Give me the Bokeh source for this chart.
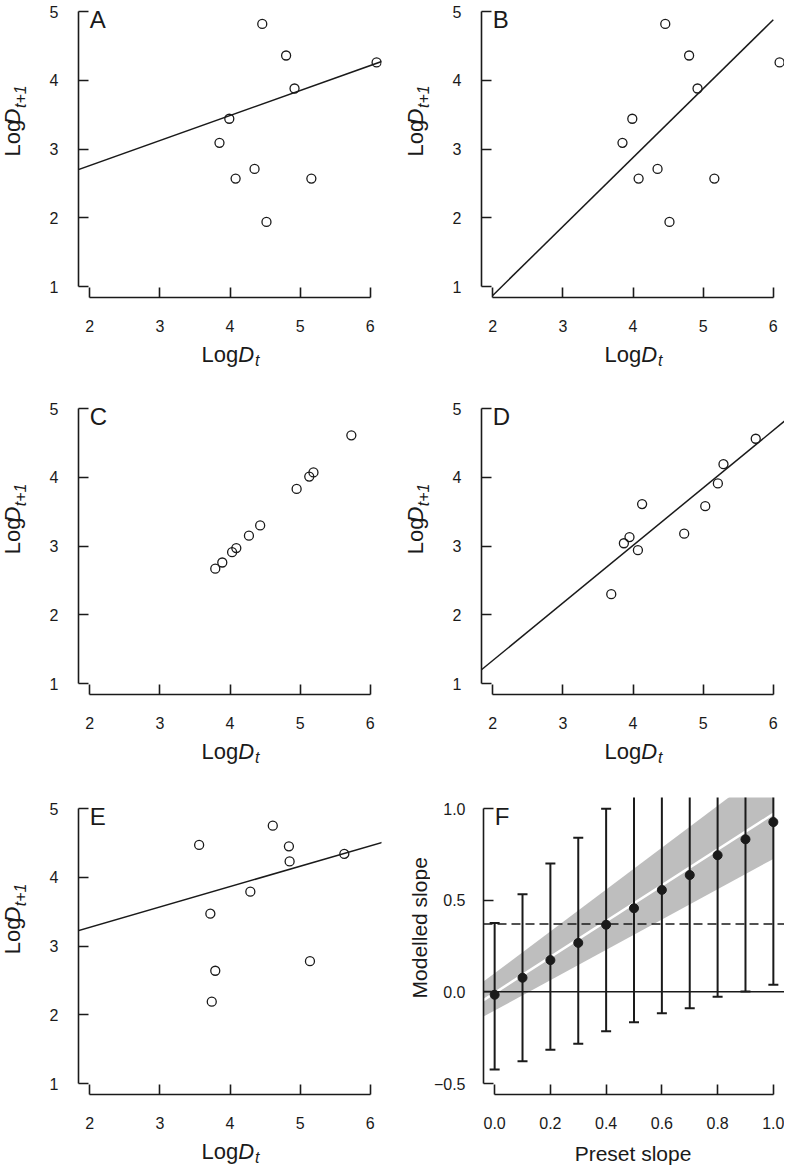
import math
from bokeh.plotting import figure
from bokeh.models import Range1d, FixedTicker, Label, Slope, Span, CustomJSTickFormatter
from bokeh.core.properties import value
from bokeh.layouts import column, row
from bokeh.embed import file_html
from bokeh.resources import INLINE

# ---------------- data ----------------
A_x = [3.85, 3.99, 4.08, 4.35, 4.46, 4.52, 4.80, 4.92, 5.16, 6.09]
A_y = [3.09, 3.44, 2.57, 2.71, 4.82, 1.94, 4.36, 3.88, 2.57, 4.26]
A_intercept, A_slope = 2.03, 0.364

B_x = [3.85, 3.99, 4.08, 4.35, 4.46, 4.52, 4.80, 4.92, 5.16, 6.09]
B_y = [3.09, 3.44, 2.57, 2.71, 4.82, 1.94, 4.36, 3.88, 2.57, 4.26]
B_line_x = [2.0, 6.0]
B_line_y = [0.87, 4.88]

C_x = [3.79, 3.89, 4.03, 4.09, 4.27, 4.43, 4.95, 5.13, 5.19, 5.73]
C_y = [2.67, 2.76, 2.91, 2.97, 3.15, 3.30, 3.83, 4.01, 4.07, 4.61]

D_x = [3.69, 3.87, 3.95, 4.07, 4.13, 4.73, 5.03, 5.21, 5.29, 5.75]
D_y = [2.30, 3.04, 3.13, 2.94, 3.61, 3.18, 3.58, 3.91, 4.19, 4.56]
D_intercept, D_slope = -0.34, 0.837

E_x = [3.56, 3.72, 3.79, 3.74, 4.29, 4.61, 4.84, 4.85, 5.14, 5.63]
E_y = [4.47, 3.47, 2.64, 2.19, 3.79, 4.75, 4.45, 4.23, 2.78, 4.34]
E_intercept, E_slope = 2.68, 0.296

F_preset = [0.0, 0.1, 0.2, 0.3, 0.4, 0.5, 0.6, 0.7, 0.8, 0.9, 1.0]
F_modelled = [-0.016, 0.077, 0.173, 0.267, 0.366, 0.456, 0.556, 0.637, 0.745, 0.832, 0.926]
F_upper = [0.375, 0.532, 0.700, 0.841, 0.998, 1.08, 1.23, 1.36, 1.52, 1.66, 1.81]
F_lower = [-0.424, -0.379, -0.316, -0.283, -0.215, -0.166, -0.117, -0.090, -0.027, 0.002, 0.038]
F_band_x = [-0.04, 1.0]
F_band_lower = [-0.135, 0.725]
F_band_upper = [0.056, 1.243]
F_trend_x = [-0.04, 1.0]
F_trend_y = [-0.045, 0.971]
F_zero_line = 0.0
F_null_slope = 0.37

SC_XTICKS = [2, 3, 4, 5, 6]
SC_YTICKS = [1, 2, 3, 4, 5]
F_XTICKS = [0.0, 0.2, 0.4, 0.6, 0.8, 1.0]
F_YTICKS = [-0.5, 0.0, 0.5, 1.0]

# ---------------- styling / layout constants ----------------
FONT = "Liberation Sans"
INK = "#1a1a1a"
TICK_PX = 16
BASE_FIX = 0.33          # em: lift of Bokeh's "alphabetic" anchor onto the true baseline
FW, FH = 303, 297
SC_X = (1.84, 6.16)
SC_Y = (0.84, 5.16)
F_X = (-0.04, 1.04)
F_Y = (-0.56, 1.06)
TOTAL_W = 784
COL_X0 = [0, 400]            # page x where each column starts
COL_W = [400, 384]           # column widths
FRAME_LEFT = [78, 481]       # page x of each plot frame's left edge
COL_RIGHT = [19, 0]          # border right of each frame
# width of the y-title strip, per row and column
STRIP_W = [[30, 34], [30, 34], [30, 30]]
# each row: the plots, then a strip for the x titles
ROWS = [dict(main_h=341, top=0, bottom=44, xs_h=54),
        dict(main_h=343, top=2, bottom=44, xs_h=57),
        dict(main_h=343, top=2, bottom=44, xs_h=31)]


def make_fig(ci, ri, xr, yr):
    r = ROWS[ri]
    sw = STRIP_W[ri][ci]
    left = FRAME_LEFT[ci] - COL_X0[ci] - sw
    p = figure(width=COL_W[ci] - sw, height=r["main_h"],
               x_range=Range1d(*xr), y_range=Range1d(*yr),
               output_backend="svg", toolbar_location=None,
               min_border_left=left, min_border_right=COL_RIGHT[ci],
               min_border_top=r["top"], min_border_bottom=r["bottom"])
    p.outline_line_color = None
    p.xgrid.visible = False
    p.ygrid.visible = False
    p.background_fill_color = "white"
    p.border_fill_color = "white"
    return p


def make_strip(w, h):
    p = figure(width=w, height=h, x_range=Range1d(0, w), y_range=Range1d(0, h),
               output_backend="svg", toolbar_location=None,
               x_axis_location=None, y_axis_location=None, min_border=0)
    p.outline_line_color = None
    p.xgrid.visible = False
    p.ygrid.visible = False
    p.background_fill_color = "white"
    p.border_fill_color = "white"
    return p


def style_axes(p, xticks, yticks, formatter=None, ystandoff=20):
    for ax, ticks in ((p.xaxis[0], xticks), (p.yaxis[0], yticks)):
        ax.ticker = FixedTicker(ticks=ticks)
        ax.bounds = (ticks[0], ticks[-1])
        ax.major_tick_in = 10
        ax.major_tick_out = 0
        ax.minor_tick_in = 0
        ax.minor_tick_out = 0
        ax.axis_line_color = INK
        ax.axis_line_width = 1.6
        ax.major_tick_line_color = INK
        ax.major_tick_line_width = 1.6
        ax.major_label_text_font = FONT
        ax.major_label_text_font_size = f"{TICK_PX}px"
        ax.major_label_text_color = INK
        if formatter is not None:
            ax.formatter = formatter
    p.xaxis[0].major_label_standoff = 22
    p.yaxis[0].major_label_standoff = ystandoff


def letter_label(p, x, y_top_tick, yr, text, size=24):
    # baseline 16 px below the top tick
    y = y_top_tick - (16 - BASE_FIX * size) * (yr[1] - yr[0]) / FH
    p.add_layout(Label(x=x, y=y, text=text, text_font=FONT, text_font_size=f"{size}px",
                       text_color=INK, text_align="left", text_baseline="alphabetic"))


def put_text(p, x, y, text, size, style="normal", align="left", angle=0.0):
    lift = BASE_FIX * size
    if angle == 0.0:
        y = y + lift
    else:
        x = x - lift
    p.text(x=[x], y=[y], text=[text], text_font=value(FONT),
           text_font_size=value(f"{size}px"), text_font_style=value(style),
           text_color=INK, text_align=value(align), text_baseline=value("alphabetic"),
           angle=angle)


def scatter_panel(letter, xs, ys, ci, ri):
    p = make_fig(ci, ri, SC_X, SC_Y)
    style_axes(p, SC_XTICKS, SC_YTICKS)
    p.scatter(xs, ys, marker="circle", size=9, fill_color=None, line_color=INK, line_width=1.3)
    letter_label(p, SC_XTICKS[0], SC_YTICKS[-1], SC_Y, letter)
    return p


def x_title_logdt(strip, ci, ri):
    """'Log D_t' under a scatter panel, in the x-title strip of row ri."""
    r = ROWS[ri]
    xc = FRAME_LEFT[ci] + ((SC_XTICKS[0] + SC_XTICKS[-1]) / 2 - SC_X[0]) * FW / (SC_X[1] - SC_X[0])
    base = r["xs_h"] - (r["top"] + FH + 64 - r["main_h"])
    put_text(strip, xc + 8.2, base, "Log", 22, align="right")
    put_text(strip, xc + 8.2, base, "D", 22, style="italic")
    put_text(strip, xc + 25, base - 4, "t", 16, style="italic")


def y_title_logdt1(strip, ci, ri):
    """Rotated 'Log D_{t+1}' left of a scatter panel."""
    r = ROWS[ri]
    xb = FRAME_LEFT[ci] - 58.8 - COL_X0[ci]
    y0 = r["main_h"] - (r["top"] + FH / 2 + 30.5)
    put_text(strip, xb, y0, "Log", 22, angle=math.pi / 2)
    put_text(strip, xb, y0 + 36.7, "D", 22, style="italic", angle=math.pi / 2)
    put_text(strip, xb + 6.5, y0 + 55.5, "t+1", 16, style="italic", angle=math.pi / 2)


pA = scatter_panel("A", A_x, A_y, 0, 0)
pA.add_layout(Slope(gradient=A_slope, y_intercept=A_intercept, line_color=INK, line_width=1.5))

pB = scatter_panel("B", B_x, B_y, 1, 0)
pB.line(B_line_x, B_line_y, line_color=INK, line_width=1.5)

pC = scatter_panel("C", C_x, C_y, 0, 1)

pD = scatter_panel("D", D_x, D_y, 1, 1)
pD.add_layout(Slope(gradient=D_slope, y_intercept=D_intercept, line_color=INK, line_width=1.5))

pE = scatter_panel("E", E_x, E_y, 0, 2)
pE.add_layout(Slope(gradient=E_slope, y_intercept=E_intercept, line_color=INK, line_width=1.5))

# ---------------- panel F ----------------
fmt = CustomJSTickFormatter(code="return tick.toFixed(1).replace('-', '\u2212');")
pF = make_fig(1, 2, F_X, F_Y)
style_axes(pF, F_XTICKS, F_YTICKS, formatter=fmt, ystandoff=18)
pF.varea(x=F_band_x, y1=F_band_lower, y2=F_band_upper, fill_color="#bebebe")
pF.line(F_trend_x, F_trend_y, line_color="white", line_width=2.5)
pF.add_layout(Span(location=F_zero_line, dimension="width", line_color=INK, line_width=1.5))
pF.add_layout(Span(location=F_null_slope, dimension="width", line_color=INK, line_width=1.5,
                   line_dash="9 5"))
pF.segment(x0=F_preset, y0=F_lower, x1=F_preset, y1=F_upper, line_color=INK, line_width=2)
pF.scatter(F_preset, F_upper, marker="dash", size=10, line_color=INK, line_width=2)
pF.scatter(F_preset, F_lower, marker="dash", size=10, line_color=INK, line_width=2)
pF.scatter(F_preset, F_modelled, marker="circle", size=9, fill_color=INK, line_color=INK)
letter_label(pF, F_XTICKS[0], F_YTICKS[-1], F_Y, "F")

# ---------------- title strips ----------------
mains = [(pA, pB), (pC, pD), (pE, pF)]
rows_out = []
for ri, (pl, pr) in enumerate(mains):
    r = ROWS[ri]
    ysL = make_strip(STRIP_W[ri][0], r["main_h"])
    ysR = make_strip(STRIP_W[ri][1], r["main_h"])
    xs = make_strip(TOTAL_W, r["xs_h"])
    y_title_logdt1(ysL, 0, ri)
    x_title_logdt(xs, 0, ri)
    if ri < 2:
        y_title_logdt1(ysR, 1, ri)
        x_title_logdt(xs, 1, ri)
    else:
        flF = FRAME_LEFT[1]
        xcF = flF + ((F_XTICKS[0] + F_XTICKS[-1]) / 2 - F_X[0]) * FW / (F_X[1] - F_X[0])
        put_text(xs, xcF, r["xs_h"] - (r["top"] + FH + 66 - r["main_h"]), "Preset slope", 21,
                 align="center")
        put_text(ysR, flF - 55 - COL_X0[1], r["main_h"] - (r["top"] + FH / 2),
                 "Modelled slope", 21, align="center", angle=math.pi / 2)
    rows_out.append(row(ysL, pl, ysR, pr))
    rows_out.append(xs)

layout = column(*rows_out)

open("out.html", "w").write(file_html(layout, INLINE, title="Slope panels"))
